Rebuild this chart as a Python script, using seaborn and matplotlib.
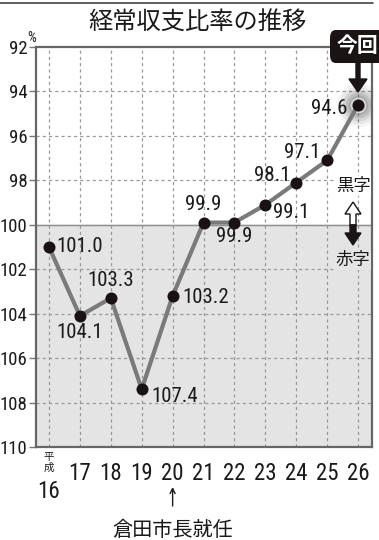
import matplotlib
matplotlib.use("Agg")
import matplotlib.pyplot as plt
import seaborn as sns
import pandas as pd
from matplotlib import font_manager
from matplotlib.font_manager import FontProperties
from matplotlib.patches import FancyBboxPatch, FancyArrow

years = [16, 17, 18, 19, 20, 21, 22, 23, 24, 25, 26]
ratios = [101.0, 104.1, 103.3, 107.4, 103.2, 99.9, 99.9, 99.1, 98.1, 97.1, 94.6]
year_labels = ["16", "17", "18", "19", "20", "21", "22", "23", "24", "25", "26"]
y_ticks = [92, 94, 96, 98, 100, 102, 104, 106, 108, 110]
title = "経常収支比率の推移"

sns.set_theme(style="white")
plt.rcParams["font.family"] = ["Noto Sans CJK JP", "DejaVu Sans"]
JP = ["Noto Sans CJK JP", "DejaVu Sans"]

# look for an installed condensed / narrow face for the numerals
cond_path = None
cands = []
for f in font_manager.fontManager.ttflist:
    nm = f.name.lower()
    fn = f.fname.lower()
    if f.style != "normal":
        continue
    w = f.weight if isinstance(f.weight, int) else 400
    if w > 500:
        continue
    if ("condensed" in nm or "narrow" in nm or "condensed" in fn or "narrow" in fn
            or f.stretch in ("condensed", "semi-condensed", "extra-condensed")):
        if "bold" in fn or "italic" in fn or "oblique" in fn or "light" in fn or "thin" in fn:
            continue
        pri = 0 if "roboto" in nm else (1 if "open" in nm else (2 if "liberation" in nm else 3))
        cands.append((pri, f.fname))
if cands:
    cands.sort()
    cond_path = cands[0][1]

if cond_path:
    NUMFP = lambda size: FontProperties(fname=cond_path, size=size)
else:
    NUMFP = lambda size: FontProperties(family="Noto Sans CJK JP", size=size * 0.85)

W, H = 379, 540
fig = plt.figure(figsize=(W / 100, H / 100), dpi=100)
fig.patch.set_facecolor("white")
ax = fig.add_axes([36 / W, 1 - 447 / H, (372 - 36) / W, 400 / H])

df = pd.DataFrame({"year": years, "ratio": ratios})

ax.set_xlim(15.58, 26.45)
ax.set_ylim(110, 92)
ax.axhspan(100, 110, color="#e4e4e4", zorder=0)
ax.axhline(100, color="#888888", lw=1.0, zorder=1)
for yv in y_ticks[1:-1]:
    ax.axhline(yv, color="#999999", lw=0.9, ls=(0, (2.5, 2.5)), zorder=1)
for xv in years:
    ax.axvline(xv, color="#999999", lw=0.9, ls=(0, (2.5, 2.5)), zorder=1)

# glow around latest point
for s, a in [(1000, 0.05), (750, 0.08), (520, 0.12), (340, 0.15), (200, 0.15)]:
    ax.scatter([years[-1]], [ratios[-1]], s=s, color="#444444", alpha=a, lw=0, zorder=2)
ax.scatter([years[-1]], [ratios[-1]], s=130, color="white", alpha=0.5, lw=0, zorder=2)

sns.lineplot(data=df, x="year", y="ratio", ax=ax, color="#7a7a7a", lw=3, zorder=3)
sns.scatterplot(data=df, x="year", y="ratio", ax=ax, color="#1a1212", s=75, lw=0, zorder=4)

offsets = [
    (7, 0, "left", "center"),
    (0, -7, "center", "top"),
    (0, 8, "center", "bottom"),
    (10, -7, "left", "center"),
    (10, -2, "left", "center"),
    (0, 9, "center", "bottom"),
    (0, -4, "center", "top"),
    (8, -8, "left", "center"),
    (-6, 7, "right", "center"),
    (-7, 8, "right", "center"),
    (-11, -4, "right", "center"),
]
for xv, yv, (dx, dy, ha, va) in zip(years, ratios, offsets):
    ax.annotate(f"{yv:.1f}", (xv, yv), xytext=(dx, dy), textcoords="offset pixels",
                ha=ha, va=va, fontproperties=NUMFP(15), color="#1a1a1a", zorder=6)

ax.set_yticks(y_ticks)
ax.set_yticklabels([str(v) for v in y_ticks], color="#1a1a1a")
for t in ax.get_yticklabels():
    t.set_fontproperties(NUMFP(13.5))
ax.tick_params(axis="y", length=5, width=1, color="#777777", pad=1, left=True)
ax.set_xticks(years)
ax.set_xticklabels([""] * len(years))
ax.tick_params(axis="x", length=0)
ax.set_xlabel("")
ax.set_ylabel("")
for sp in ax.spines.values():
    sp.set_color("#666666")
    sp.set_linewidth(1.6)

# x labels
for xv, lab in zip(years[1:], year_labels[1:]):
    ax.annotate(lab, (xv, 110), xytext=(0, -27), textcoords="offset pixels",
                ha="center", va="center", fontproperties=NUMFP(16.5), color="#1a1a1a")
ax.annotate(year_labels[0], (years[0], 110), xytext=(0, -44), textcoords="offset pixels",
            ha="center", va="center", fontproperties=NUMFP(16.5), color="#1a1a1a")
ax.annotate("平", (years[0], 110), xytext=(0, -10), textcoords="offset pixels",
            ha="center", va="center", fontsize=7.5, family=JP, color="#1a1a1a")
ax.annotate("成", (years[0], 110), xytext=(0, -21), textcoords="offset pixels",
            ha="center", va="center", fontsize=7.5, family=JP, color="#1a1a1a")
# thin arrow pointing up at 20
ax.annotate("", xy=(20, H - 487), xytext=(20, H - 506),
            xycoords=("data", "figure pixels"), textcoords=("data", "figure pixels"),
            arrowprops=dict(arrowstyle="->", lw=1.0, color="#1a1a1a",
                            shrinkA=0, shrinkB=0, mutation_scale=9),
            annotation_clip=False)
ax.annotate("倉田市長就任", (20, 110), xytext=(0, -83), textcoords="offset pixels",
            ha="center", va="center", fontsize=14.5, family=JP, color="#1a1a1a")

# title and top rule
fig.add_artist(plt.Line2D([0, 373 / W], [1 - 3 / H, 1 - 3 / H], color="#444444", lw=1.2))
fig.text(197 / W, 1 - 23 / H, title, ha="center", va="center", fontsize=17.5,
         family=JP, color="#1a1a1a")
fig.text(27 / W, 1 - 38 / H, "%", ha="left", va="center", fontproperties=NUMFP(10),
         color="#1a1a1a")

# 今回 box
box = FancyBboxPatch((330 / W, 1 - 63 / H), 54 / W, 33 / H,
                     boxstyle="round,pad=0,rounding_size=0.015", transform=fig.transFigure,
                     facecolor="#1a1414", edgecolor="none", zorder=10)
fig.add_artist(box)
fig.text(357 / W, 1 - 46 / H, "今回", ha="center", va="center", fontsize=15,
         family=JP, color="white", fontweight="bold", zorder=11)
fig.add_artist(FancyArrow(358 / W, 1 - 62 / H, 0, -30 / H, width=4 / W,
                          head_width=18 / W, head_length=13 / H, length_includes_head=True,
                          transform=fig.transFigure, color="#1a1414", zorder=10))

# legend 黒字 / 赤字
fig.text(353 / W, 1 - 186 / H, "黒字", ha="center", va="center", fontsize=12.5,
         family=JP, color="#1a1a1a", zorder=11,
         bbox=dict(facecolor="white", edgecolor="none", pad=0.5))
fig.add_artist(FancyArrow(353 / W, 1 - 225 / H, 0, 23 / H, width=6 / W,
                          head_width=16 / W, head_length=12 / H, length_includes_head=True,
                          transform=fig.transFigure, facecolor="white", edgecolor="#1a1414",
                          lw=1, zorder=10))
fig.add_artist(FancyArrow(353 / W, 1 - 225 / H, 0, -20 / H, width=6 / W,
                          head_width=16 / W, head_length=12 / H, length_includes_head=True,
                          transform=fig.transFigure, facecolor="#1a1414", edgecolor="#1a1414",
                          lw=1, zorder=10))
fig.text(353 / W, 1 - 260 / H, "赤字", ha="center", va="center", fontsize=12.5,
         family=JP, color="#1a1a1a", zorder=11,
         bbox=dict(facecolor="#e4e4e4", edgecolor="none", pad=0.5))

fig.savefig("out.png", dpi=100, facecolor="white")
